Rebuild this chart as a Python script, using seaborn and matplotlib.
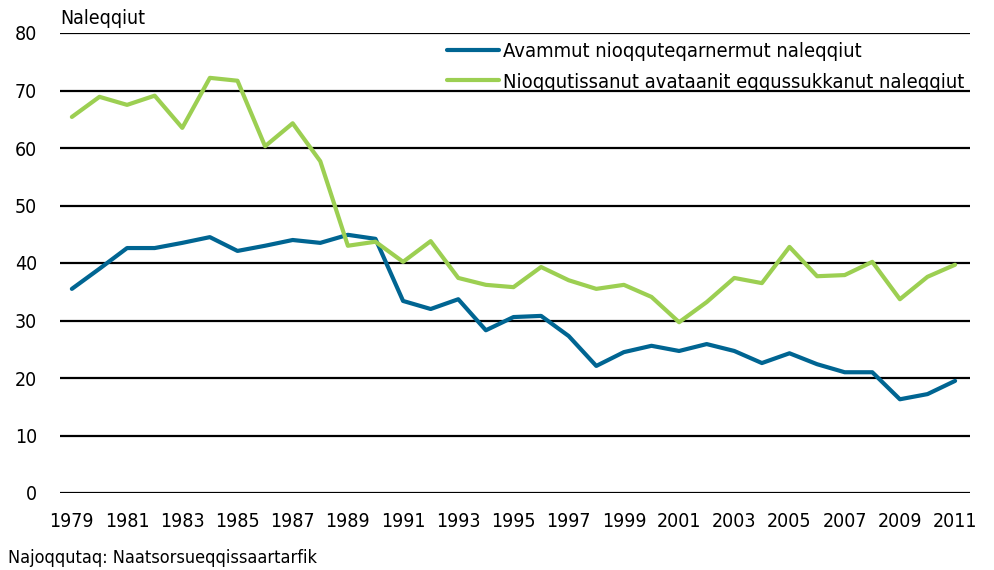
import matplotlib.pyplot as plt
import seaborn as sns
import pandas as pd

sns.set_style("white")
plt.rcParams['font.family'] = ['DejaVu Sans']
plt.rcParams['font.stretch'] = 'condensed'
plt.rcParams['text.color'] = 'black'
plt.rcParams['xtick.color'] = 'black'
plt.rcParams['ytick.color'] = 'black'

years = list(range(1979, 2012))
avammut = [35.5, 39.0, 42.6, 42.6, 43.5, 44.5, 42.1, 43.0, 44.0, 43.5, 44.9,
           44.2, 33.4, 32.0, 33.7, 28.3, 30.6, 30.8, 27.3, 22.1, 24.5, 25.6,
           24.7, 25.9, 24.7, 22.6, 24.3, 22.4, 21.0, 21.0, 16.3, 17.2, 19.5]
nioqqutissanut = [65.4, 68.9, 67.5, 69.1, 63.5, 72.2, 71.7, 60.3, 64.3, 57.7, 43.0,
                  43.7, 40.2, 43.8, 37.4, 36.2, 35.8, 39.3, 37.0, 35.5, 36.2, 34.1,
                  29.7, 33.2, 37.4, 36.5, 42.8, 37.7, 37.9, 40.2, 33.7, 37.6, 39.7]
series_names = ["Avammut nioqquteqarnermut naleqqiut",
                "Nioqqutissanut avataanit eqqussukkanut naleqqiut"]
colors = ["#006592", "#9ccf52"]

df = pd.DataFrame({
    "year": years * 2,
    "value": avammut + nioqqutissanut,
    "series": [series_names[0]] * len(years) + [series_names[1]] * len(years),
})

fig = plt.figure(figsize=(9.94, 5.70), dpi=100)
ax = fig.add_axes([60 / 994, 1 - 493 / 570, 910 / 994, 460 / 570])

sns.lineplot(data=df, x="year", y="value", hue="series", palette=colors,
             linewidth=3, ax=ax, zorder=3)

ax.set_xlim(1978.57, 2011.54)
ax.set_ylim(0, 80)
ax.set_xticks(years[::2])
ax.set_yticks(range(0, 81, 10))
ax.yaxis.grid(True, color='black', linewidth=1.6)
ax.set_axisbelow(True)
for s in ax.spines.values():
    s.set_visible(False)
ax.tick_params(axis='both', length=0, labelsize=14)
ax.tick_params(axis='y', pad=16.5)
ax.tick_params(axis='x', pad=14)
ax.set_xlabel("")
ax.set_ylabel("")

leg = ax.legend(loc='upper right', bbox_to_anchor=(1.003, 0.997), frameon=False,
                fontsize=14.5, handlelength=2.6, handletextpad=0.2,
                labelspacing=0.55, borderaxespad=0)
for line in leg.get_lines():
    line.set_linewidth(3)

fig.text(60 / 994, 1 - 19 / 570, "Naleqqiut", fontsize=14, va='center', ha='left')
fig.text(8 / 994, 1 - 558 / 570, "Najoqqutaq: Naatsorsueqqissaartarfik",
         fontsize=13, va='center', ha='left')

plt.savefig("out.png", dpi=100)
